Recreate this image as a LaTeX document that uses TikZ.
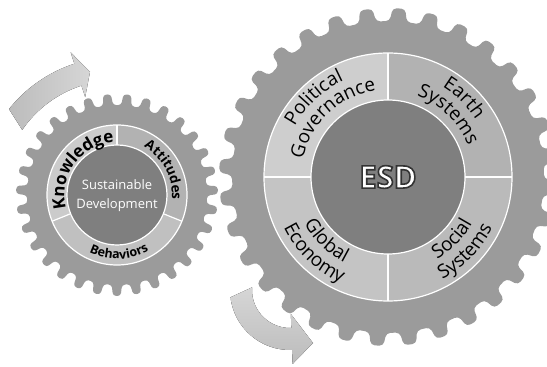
\documentclass[tikz,border=0pt]{standalone}
\usepackage{fontspec}
\setmainfont{Open Sans}
\usetikzlibrary{decorations.text}

\definecolor{gearbody}{RGB}{155,155,155}
\definecolor{hubgray}{RGB}{127,127,127}
\definecolor{knowgray}{RGB}{203,203,203}
\definecolor{attgray}{RGB}{178,178,178}
\definecolor{behgray}{RGB}{192,192,192}
\definecolor{polgray}{RGB}{206,206,206}
\definecolor{earthgray}{RGB}{178,178,178}
\definecolor{econgray}{RGB}{196,196,196}
\definecolor{socgray}{RGB}{186,186,186}
\definecolor{arrowdark}{RGB}{188,188,188}
\definecolor{arrowlight}{RGB}{214,214,214}

% Umriss fuer ESD: Fuellen + Kontur (Tr 2)
\newcommand{\outlinedtext}[1]{\special{pdf:literal direct 2 Tr 1.6 w 0.2 0.2 0.2 RG}#1\special{pdf:literal direct 0 Tr}}

\tikzset{
  divider/.style={white, line width=1.2pt},
  ringlabel/.style={decorate, decoration={text along path, text align=center, text={#1}}},
  esdfont/.style={font=\bfseries\fontsize{31}{31}\selectfont},
}

\begin{document}
\begin{tikzpicture}[x=1pt, y=1pt]
  \clip (0,0) rectangle (547,367);
  \useasboundingbox (0,0) rectangle (547,367);

  % ---- Pfeile (hinter den Zahnraedern) ----
  \begin{scope}[shift={(117,172)}]
    \fill[left color=arrowdark, right color=arrowlight]
      (141.5:138) arc[start angle=141.5, end angle=108, radius=138]
      -- (108:150) -- (-27,123) -- (108:103) -- (108:115)
      arc[start angle=108, end angle=145.5, radius=115] -- cycle;
  \end{scope}
  \begin{scope}[shift={(290,77)}]
    \fill[top color=arrowlight, bottom color=arrowdark]
      (187:60) arc[start angle=187, end angle=272, radius=60]
      -- (272:74) -- (23,-53) -- (272:24) -- (272:38)
      arc[start angle=272, end angle=176, radius=38] -- cycle;
  \end{scope}

  % ---- kleines Zahnrad ----
  \begin{scope}[shift={(117,172)}]
    \fill[gearbody, rounded corners=3pt] (-3.0:90)
      \foreach \k [evaluate=\k as \a using 2.8+\k*11.613] in {0,...,30} {
        -- ({\a-3.25}:90) -- ({\a-2.2}:101) -- ({\a+2.2}:101) -- ({\a+3.25}:90)
      } -- cycle;
    \fill[knowgray] (0,0) -- (90:70) arc[start angle=90, end angle=202, radius=70] -- cycle;
    \fill[behgray] (0,0) -- (202:70) arc[start angle=202, end angle=338, radius=70] -- cycle;
    \fill[attgray] (0,0) -- (338:70) arc[start angle=338, end angle=450, radius=70] -- cycle;
    \draw[divider] (0,0) circle[radius=70];
    \foreach \a in {90,202,338} \draw[divider] (\a:50) -- (\a:70);
    \fill[hubgray] (0,0) circle[radius=50];
    \draw[divider] (0,0) circle[radius=50];
    \path[ringlabel={|\bfseries\fontsize{17}{17}\selectfont|Knowledge}]
      (214:52.5) arc[start angle=214, end angle=74, radius=52.5];
    \path[ringlabel={|\bfseries\fontsize{13.5}{13.5}\selectfont|Attitudes}]
      (98:55) arc[start angle=98, end angle=-42, radius=55];
    \path[ringlabel={|\bfseries\fontsize{12.5}{12.5}\selectfont|Behaviors}]
      (212:64) arc[start angle=212, end angle=332, radius=64];
    \node[white, font=\fontsize{13}{19}\selectfont, align=center] (sdlabel) at (0,-1)
      {Sustainable\\Development};
  \end{scope}

  % ---- grosses Zahnrad ----
  \begin{scope}[shift={(388,190)}]
    \fill[gearbody, rounded corners=4pt] (1.875:156)
      \foreach \k [evaluate=\k as \a using 7.5+\k*11.25] in {0,...,31} {
        -- ({\a-3.15}:156) -- ({\a-2.14}:169) -- ({\a+2.14}:169) -- ({\a+3.15}:156)
      } -- cycle;
    \fill[earthgray] (0,0) -- (0:124) arc[start angle=0, end angle=90, radius=124] -- cycle;
    \fill[polgray] (0,0) -- (90:124) arc[start angle=90, end angle=180, radius=124] -- cycle;
    \fill[econgray] (0,0) -- (180:124) arc[start angle=180, end angle=270, radius=124] -- cycle;
    \fill[socgray] (0,0) -- (270:124) arc[start angle=270, end angle=360, radius=124] -- cycle;
    \draw[divider] (0,0) circle[radius=124];
    \foreach \a in {0,90,180,270} \draw[divider] (\a:77) -- (\a:124);
    \fill[hubgray] (0,0) circle[radius=77];
    \draw[divider] (0,0) circle[radius=77];
    % oben: im Uhrzeigersinn, unten: gegen den Uhrzeigersinn
    \path[ringlabel={|\fontsize{19}{19}\selectfont|Political}]
      (203:106) arc[start angle=203, end angle=63, radius=106];
    \path[ringlabel={|\fontsize{19}{19}\selectfont|Governance}]
      (203:87) arc[start angle=203, end angle=63, radius=87];
    \path[ringlabel={|\fontsize{19}{19}\selectfont|Earth}]
      (116:105) arc[start angle=116, end angle=-24, radius=105];
    \path[ringlabel={|\fontsize{19}{19}\selectfont|Systems}]
      (116:86) arc[start angle=116, end angle=-24, radius=86];
    \path[ringlabel={|\fontsize{19}{19}\selectfont|Global}]
      (156:96) arc[start angle=156, end angle=296, radius=96];
    \path[ringlabel={|\fontsize{19}{19}\selectfont|Economy}]
      (156:116) arc[start angle=156, end angle=296, radius=116];
    \path[ringlabel={|\fontsize{19}{19}\selectfont|Social}]
      (246:96) arc[start angle=246, end angle=386, radius=96];
    \path[ringlabel={|\fontsize{19}{19}\selectfont|Systems}]
      (246:116) arc[start angle=246, end angle=386, radius=116];
    \node[white, esdfont] (esd) at (0,0) {\outlinedtext{ESD}};
  \end{scope}
\end{tikzpicture}
\end{document}
